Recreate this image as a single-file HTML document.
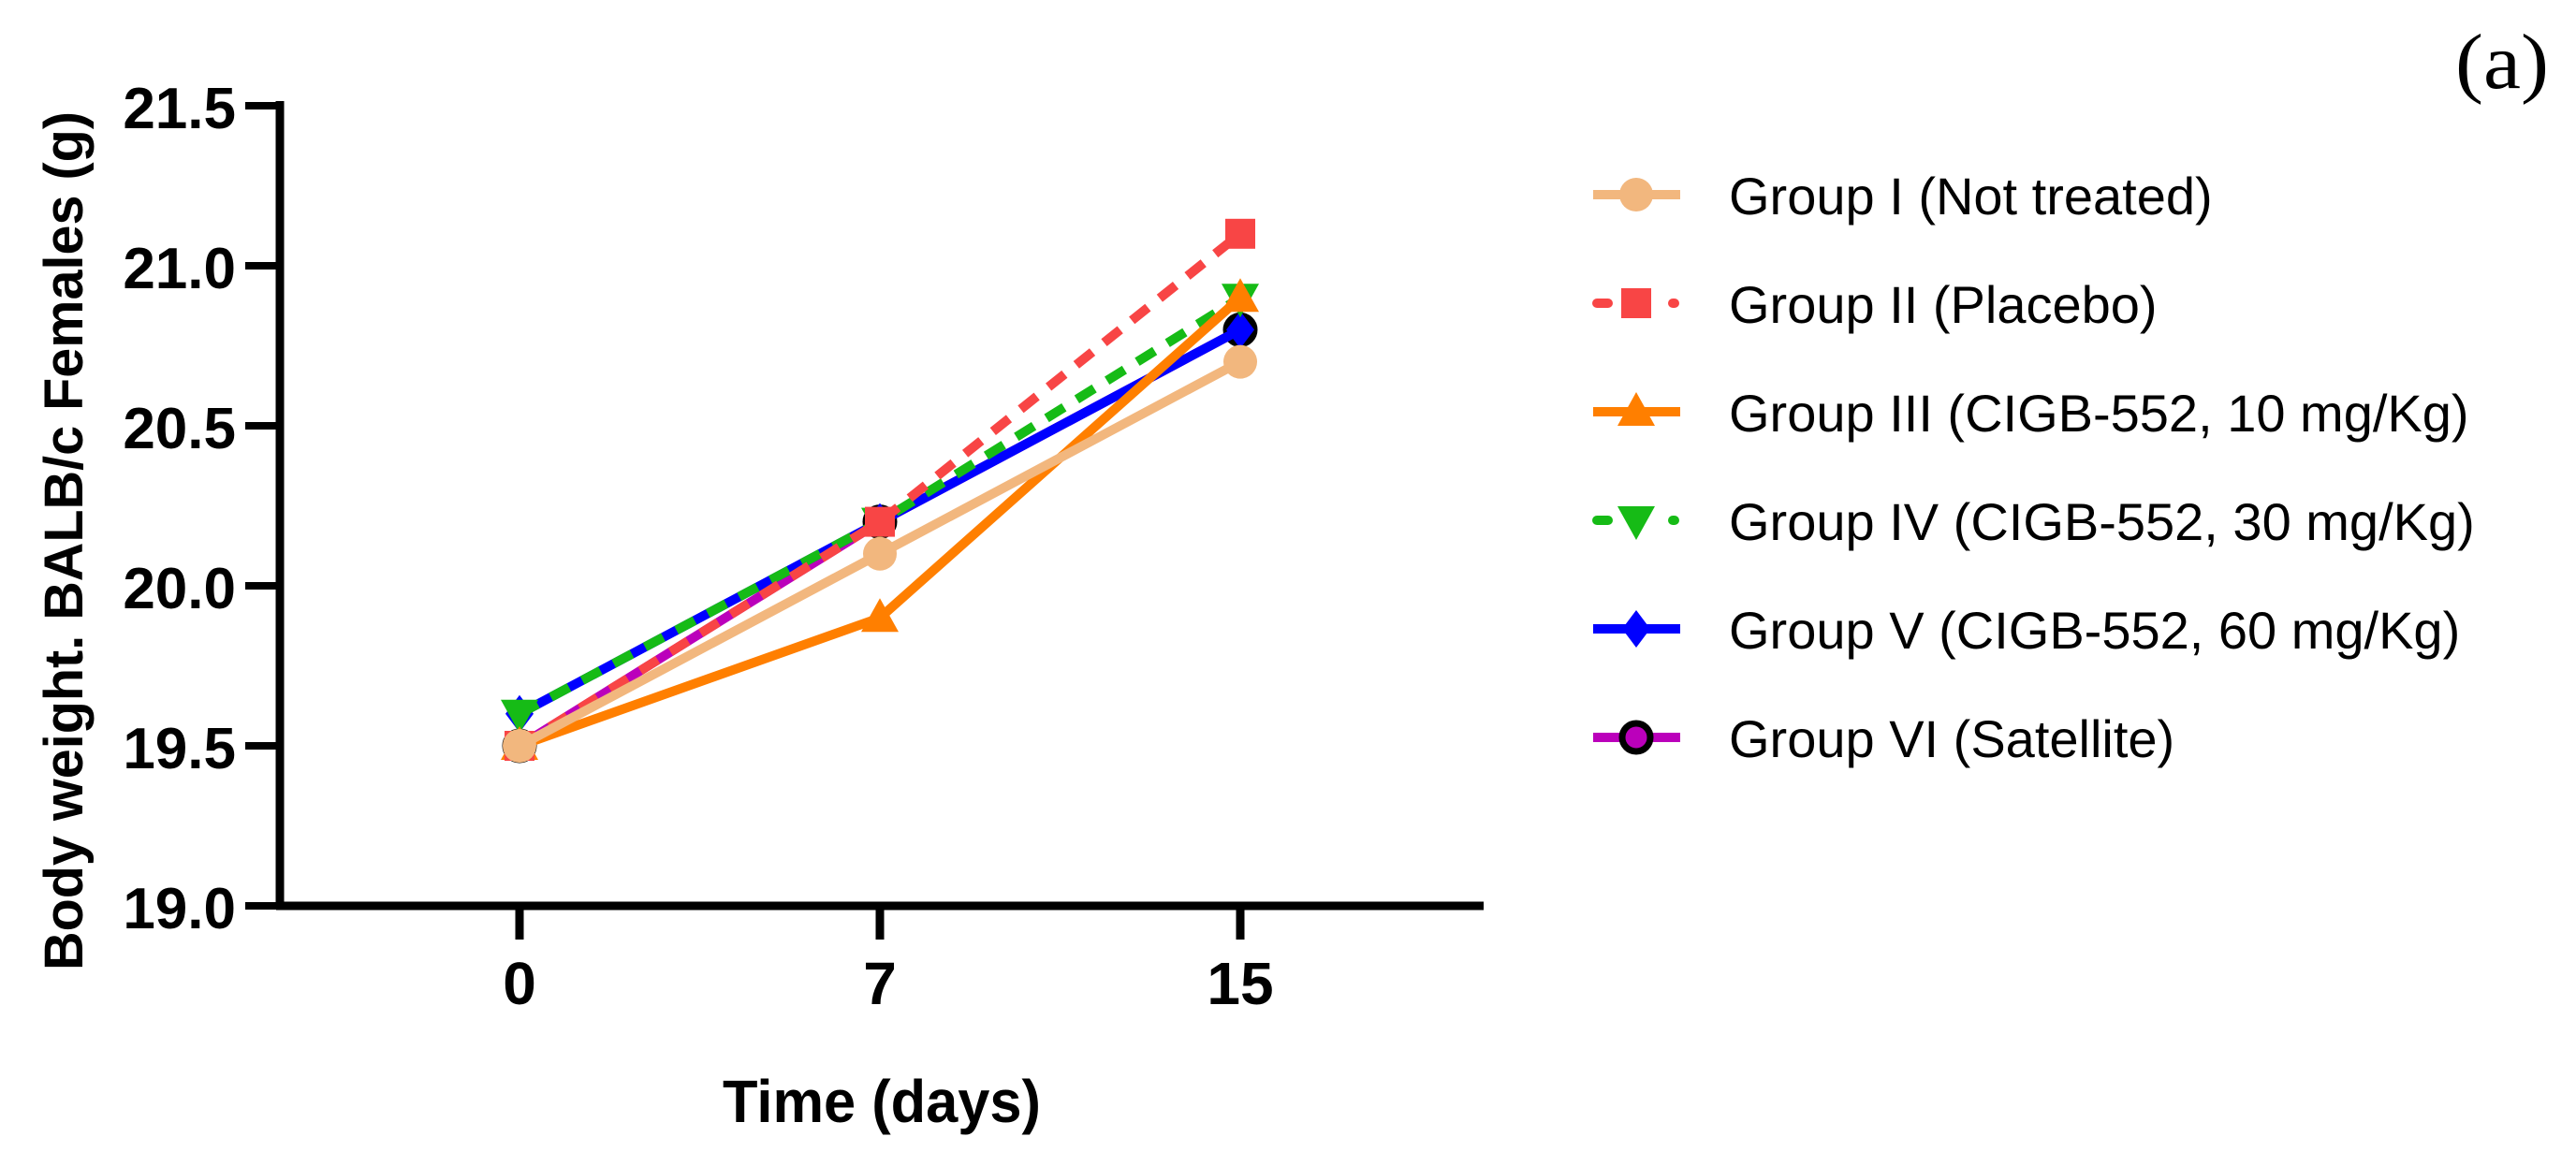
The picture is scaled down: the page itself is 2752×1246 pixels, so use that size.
<!DOCTYPE html>
<html><head><meta charset="utf-8"><style>
html,body{margin:0;padding:0;background:#fff;}
svg{display:block;}
</style></head><body>
<svg id="chart" width="2752" height="1246" xmlns="http://www.w3.org/2000/svg">
<text x="2723" y="94" text-anchor="end" font-family="Liberation Serif, serif" font-size="84" textLength="100" lengthAdjust="spacingAndGlyphs">(a)</text>
<text transform="translate(88,578) rotate(-90)" text-anchor="middle" font-family="Liberation Sans, sans-serif" font-weight="bold" font-size="58" textLength="918" lengthAdjust="spacingAndGlyphs">Body weight. BALB/c Females (g)</text>
<text x="942" y="1199" text-anchor="middle" font-family="Liberation Sans, sans-serif" font-weight="bold" font-size="64" textLength="340" lengthAdjust="spacingAndGlyphs">Time (days)</text>
<g id="axes"></g>
<g id="series"></g>
<g id="legend"></g>
</svg>
<script>
const categories = [0, 7, 15];
const yTicks = [19.0, 19.5, 20.0, 20.5, 21.0, 21.5];
const yTickLabels = ["19.0", "19.5", "20.0", "20.5", "21.0", "21.5"];
const seriesNames = ["Group I (Not treated)", "Group II (Placebo)", "Group III (CIGB-552, 10 mg/Kg)", "Group IV (CIGB-552, 30 mg/Kg)", "Group V (CIGB-552, 60 mg/Kg)", "Group VI (Satellite)"];
const groupI = [19.5, 20.1, 20.7];
const groupII = [19.5, 20.2, 21.1];
const groupIII = [19.5, 19.9, 20.9];
const groupIV = [19.6, 20.2, 20.9];
const groupV = [19.6, 20.2, 20.8];
const groupVI = [19.5, 20.2, 20.8];

const NS = "http://www.w3.org/2000/svg";
function xPos(i){ return 555 + (1325 - 555) * i / (categories.length - 1); }
function yPos(v){ return 968 - (v - 19.0) * (968 - 113) / 2.5; }
function mk(tag, attrs, parent){ const e = document.createElementNS(NS, tag); for (const k in attrs) e.setAttribute(k, attrs[k]); parent.appendChild(e); return e; }

const axes = document.getElementById('axes');
let e;
e = mk('line', {x1:299, y1:108, x2:299, y2:972, stroke:'#000', 'stroke-width':9}, axes);


e = mk('line', {x1:295, y1:968, x2:1585, y2:968, stroke:'#000', 'stroke-width':9}, axes);


yTicks.forEach((t, i) => {
  const y = yPos(t);
  const tk = mk('line', {x1:262, y1:y, x2:299, y2:y, stroke:'#000', 'stroke-width':8}, axes);
  
  
  const tx = mk('text', {x:252, y:y + 24, 'text-anchor':'end', 'font-family':'Liberation Sans, sans-serif', 'font-weight':'bold', 'font-size':62}, axes);
  tx.textContent = yTickLabels[i];
  
  
});
categories.forEach((c, i) => {
  const x = xPos(i);
  const tk = mk('line', {x1:x, y1:968, x2:x, y2:1004, stroke:'#000', 'stroke-width':9}, axes);
  
  
  const tx = mk('text', {x:x, y:1073, 'text-anchor':'middle', 'font-family':'Liberation Sans, sans-serif', 'font-weight':'bold', 'font-size':64}, axes);
  tx.textContent = String(c);
  
  
});

const styles = [
  {data: groupI, color:'#F2B77E', dash:null, marker:'circle'},
  {data: groupII, color:'#F84545', dash:'22 16', marker:'square'},
  {data: groupIII, color:'#FF7F00', dash:null, marker:'triangle'},
  {data: groupIV, color:'#16BB16', dash:'22 16', marker:'tridown'},
  {data: groupV, color:'#0000FF', dash:null, marker:'diamond'},
  {data: groupVI, color:'#BB00BB', dash:null, marker:'ring'}
];

function drawMarker(kind, x, y, color, parent, s){
  s = s || 1;
  let m;
  if (kind === 'circle') m = mk('circle', {cx:x, cy:y, r:18*s, fill:color}, parent);
  else if (kind === 'square') m = mk('rect', {x:x-16*s, y:y-16*s, width:32*s, height:32*s, fill:color}, parent);
  else if (kind === 'triangle') m = mk('polygon', {points:`${x},${y-21*s} ${x+20*s},${y+15*s} ${x-20*s},${y+15*s}`, fill:color}, parent);
  else if (kind === 'tridown') m = mk('polygon', {points:`${x-20*s},${y-15*s} ${x+20*s},${y-15*s} ${x},${y+21*s}`, fill:color}, parent);
  else if (kind === 'diamond') m = mk('polygon', {points:`${x},${y-20*s} ${x+15*s},${y} ${x},${y+20*s} ${x-15*s},${y}`, fill:color}, parent);
  else m = mk('circle', {cx:x, cy:y, r:15*s, fill:color, stroke:'#000', 'stroke-width':7}, parent);
  return m;
}

const series = document.getElementById('series');
const order = [5, 4, 3, 2, 1, 0];
order.forEach(si => {
  const st = styles[si];
  const g = mk('g', {}, series);
  
  
  const pts = st.data.map((v, i) => xPos(i) + ',' + yPos(v)).join(' ');
  const attrs = {points:pts, fill:'none', stroke:st.color, 'stroke-width':10, 'stroke-linejoin':'round'};
  if (st.dash) attrs['stroke-dasharray'] = st.dash;
  const pl = mk('polyline', attrs, g);
  
  
  st.data.forEach((v, i) => {
    const m = drawMarker(st.marker, xPos(i), yPos(v), st.color, g);
    
    
  });
});

const legend = document.getElementById('legend');
seriesNames.forEach((name, i) => {
  const st = styles[i];
  const y = 208 + i * 116;
  const g = mk('g', {}, legend);
  
  
  if (st.dash) {
    mk('line', {x1:1706, y1:y, x2:1718, y2:y, stroke:st.color, 'stroke-width':10, 'stroke-linecap':'round'}, g);
    mk('line', {x1:1787, y1:y, x2:1789, y2:y, stroke:st.color, 'stroke-width':10, 'stroke-linecap':'round'}, g);
  } else {
    mk('line', {x1:1702, y1:y, x2:1795, y2:y, stroke:st.color, 'stroke-width':10}, g);
  }
  drawMarker(st.marker, 1748, y, st.color, g);
  const t = mk('text', {x:1847, y:y + 21, 'font-family':'Liberation Sans, sans-serif', 'font-size':56}, g);
  t.textContent = name;
  
  
});
</script>
</body></html>
